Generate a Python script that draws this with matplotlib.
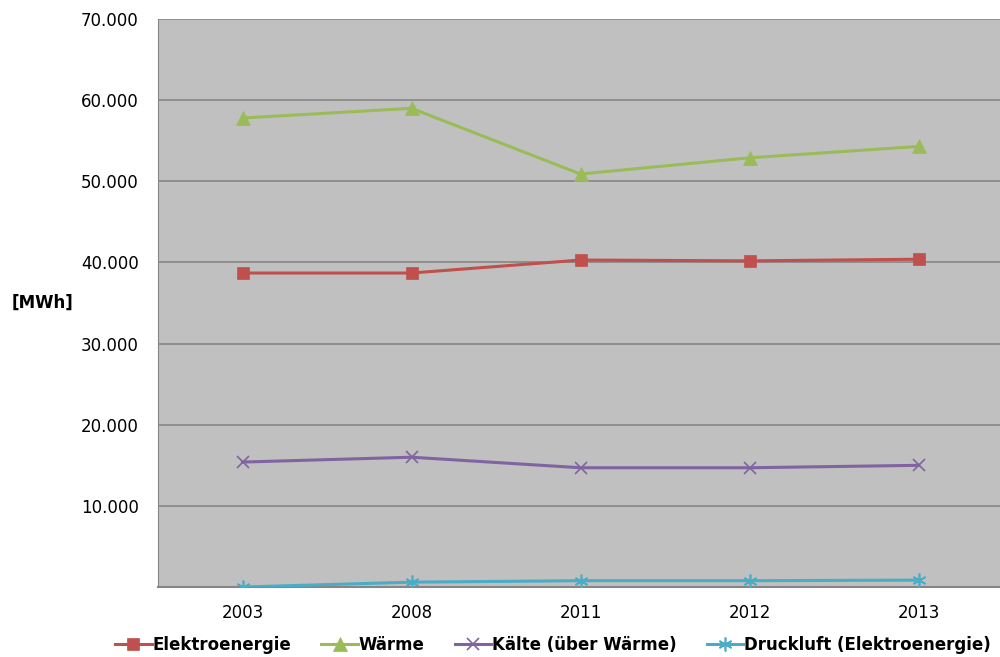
import matplotlib.pyplot as plt
from matplotlib.ticker import FuncFormatter

years = ['2003', '2008', '2011', '2012', '2013']
elektroenergie = [38700, 38700, 40300, 40200, 40400]
waerme = [57800, 59000, 50900, 52900, 54300]
kaelte = [15400, 16000, 14700, 14700, 15000]
druckluft = [0, 600, 780, 780, 850]

series = [
    ('Elektroenergie', elektroenergie, '#C0504D', 's', 9),
    ('Wärme', waerme, '#9BBB59', '^', 9.5),
    ('Kälte (über Wärme)', kaelte, '#8064A2', 'x', 8),
    ('Druckluft (Elektroenergie)', druckluft, '#4BACC6', (6, 2, 0), 10),
]

plt.rcParams['font.family'] = 'DejaVu Sans'
fig = plt.figure(figsize=(10, 6.57), dpi=100)
ax = fig.add_axes([0.158, 0.1065, 0.845, 0.8645])
ax.set_facecolor('#C0C0C0')

x = range(len(years))
for name, vals, color, marker, ms in series:
    ax.plot(x, vals, color=color, lw=2.2, marker=marker, markersize=ms,
            markeredgewidth=1.2 if marker in ('x', (6, 2, 0)) else 0.5,
            markeredgecolor=color, label=name, zorder=3)

ax.set_xlim(-0.5, len(years) - 0.5)
ax.set_ylim(0, 70000)
ax.set_yticks(range(0, 70001, 10000))
ax.yaxis.set_major_formatter(FuncFormatter(
    lambda v, p: '' if v == 0 else f'{int(v):,}'.replace(',', '.')))
ax.set_xticks(list(x))
ax.set_xticklabels(years)
ax.tick_params(axis='both', length=0, labelsize=12, colors='black')
ax.tick_params(axis='y', pad=14)
ax.tick_params(axis='x', pad=12)
ax.grid(axis='y', color='#868686', lw=1.2)
ax.set_axisbelow(True)
for side in ['top', 'right']:
    ax.spines[side].set_visible(False)
ax.spines['left'].set_color('#868686')
ax.spines['bottom'].set_color('#868686')
ax.spines['bottom'].set_linewidth(1.5)

fig.text(0.012, 1 - 303 / 657, '[MWh]', fontsize=12, fontweight='bold',
         va='center', ha='left')

fig.legend(loc='center', bbox_to_anchor=(0.553, 0.018), ncol=4, frameon=False,
           prop={'weight': 'bold', 'size': 12}, handlelength=2.2,
           handletextpad=0.05, columnspacing=1.8)

fig.savefig('out.png', dpi=100)
